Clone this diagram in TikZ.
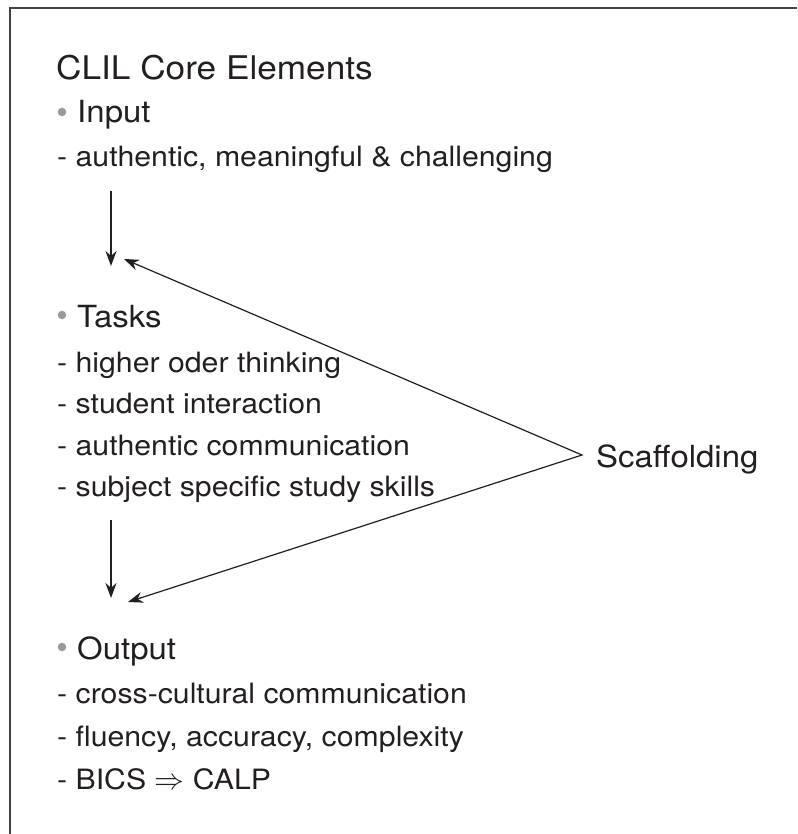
\documentclass[tikz,border=0pt]{standalone}
\usepackage{fontspec}
\setmainfont{TeX Gyre Heros}[FakeStretch=1.08]
\usetikzlibrary{arrows.meta}
\definecolor{ink}{HTML}{231F20}
\definecolor{bulletgray}{HTML}{9A9A9C}
\begin{document}
\begin{tikzpicture}[x=1pt,y=-1pt,
  txt/.style={anchor=base west,inner sep=0pt,text=ink},
  title/.style={txt,font=\fontsize{32.6}{38}\selectfont},
  head/.style={txt,font=\fontsize{30.5}{36}\selectfont},
  sub/.style={txt,font=\fontsize{28}{34}\selectfont},
  dot/.style={circle,fill=bulletgray,inner sep=0pt,minimum size=8.5pt},
  conn/.style={draw=ink,line width=1.4pt,-{Stealth[length=15pt,width=11pt]}},
  frame/.style={draw=ink!85,line width=1.6pt}
]
\useasboundingbox (0,0) rectangle (797,834);
\fill[white] (0,0) rectangle (797,834);
% frame (top and left edges only visible)
\coordinate (fa) at (10,834);
\coordinate (fb) at (10,8);
\coordinate (fc) at (797,8);
\draw[frame] (fa) -- (fb) -- (fc);

% title
\node[title] (ttl) at (56,80) {CLIL Core Elements};

% input
\node[dot] (b1) at (62,112) {};
\node[head] (inp) at (77,123) {Input};
\node[sub] (inp1) at (57,167) {- authentic, meaningful \& challenging};

% tasks
\node[dot] (b2) at (62,315) {};
\node[head] (tsk) at (77,327) {Tasks};
\node[sub] (tsk1) at (57,372) {- higher oder thinking};
\node[sub] (tsk2) at (57,413.5) {- student interaction};
\node[sub] (tsk3) at (57,455) {- authentic communication};
\node[sub] (tsk4) at (57,496.5) {- subject specific study skills};

% output
\node[dot] (b3) at (62,647) {};
\node[head] (out) at (77,659) {Output};
\node[sub] (out1) at (57,703) {- cross-cultural communication};
\node[sub] (out2) at (57,746) {- fluency, accuracy, complexity};
\node[sub] (out3) at (57,789) {- BICS \scalebox{1.2}{$\Rightarrow$} CALP};

% scaffolding
\node[head] (scf) at (596,467) {Scaffolding};

% arrow coordinates
\coordinate (d1s) at (111,191);
\coordinate (d1e) at (111,266);
\coordinate (d2s) at (111,520);
\coordinate (d2e) at (111,598);
\coordinate (v) at (582,455);
\coordinate (s1) at (124,259);
\coordinate (s2) at (128,602);

\draw[conn] (d1s) -- (d1e);
\draw[conn] (d2s) -- (d2e);
\draw[conn,line width=1.2pt,{Stealth[length=15pt,width=11pt]}-{Stealth[length=15pt,width=11pt]}] (s1) -- (v) -- (s2);
\end{tikzpicture}
\end{document}
